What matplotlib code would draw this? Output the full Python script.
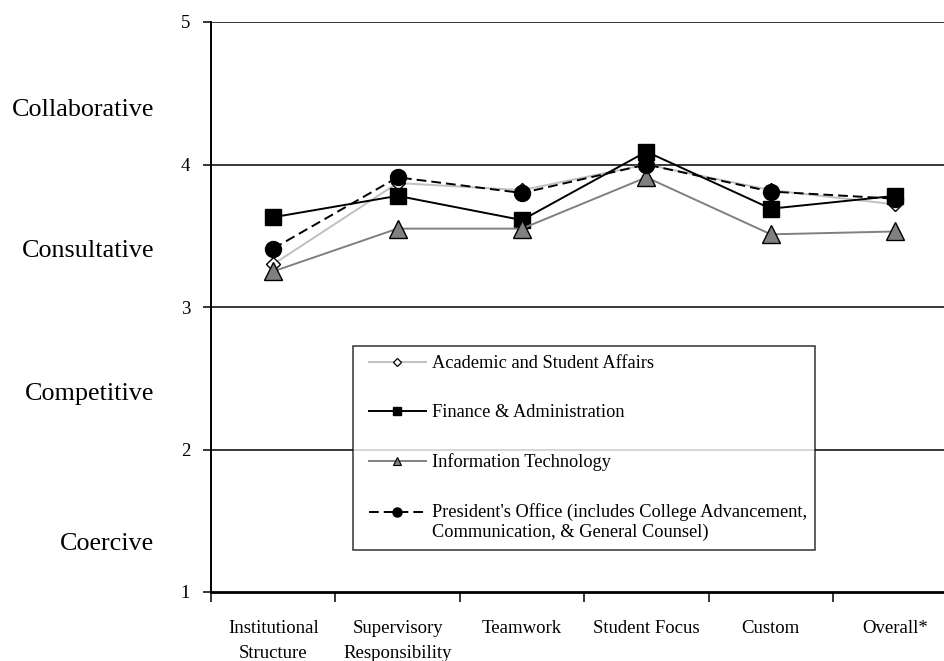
import matplotlib
matplotlib.use("Agg")
import matplotlib.pyplot as plt
from matplotlib.lines import Line2D
from matplotlib.legend_handler import HandlerLine2D
import numpy as np

plt.rcParams['font.family'] = ['Liberation Serif', 'DejaVu Serif']

categories = ["Institutional\nStructure", "Supervisory\nResponsibility", "Teamwork",
              "Student Focus", "Custom", "Overall*"]
academic = [3.30, 3.87, 3.82, 4.00, 3.82, 3.72]
finance = [3.63, 3.78, 3.61, 4.09, 3.69, 3.78]
info_tech = [3.25, 3.55, 3.55, 3.91, 3.51, 3.53]
president = [3.41, 3.91, 3.80, 4.00, 3.81, 3.76]

series_labels = ["Academic and Student Affairs", "Finance & Administration",
                 "Information Technology",
                 "President's Office (includes College Advancement,\nCommunication, & General Counsel)"]
style_names = ["Collaborative", "Consultative", "Competitive", "Coercive"]
style_levels = [4.38, 3.39, 2.39, 1.34]
y_ticks = [1, 2, 3, 4, 5]

W, H = 945, 661
fig = plt.figure(figsize=(W / 100, H / 100), dpi=100)
ax = fig.add_axes([211 / W, 1 - 592 / H, 734 / W, 570 / H])

x = np.arange(len(categories))
light = "#c0c0c0"
mid = "#808080"

ax.plot(x, academic, color=light, lw=1.4, marker="D", ms=7.5,
        mfc="white", mec="black", mew=1.0, zorder=3)
ax.plot(x, finance, color="black", lw=1.4, marker="s", ms=12,
        mfc="black", mec="black", zorder=4)
ax.plot(x, info_tech, color=mid, lw=1.4, marker="^", ms=12.5,
        mfc=mid, mec="black", mew=1.0, zorder=5)
ax.plot(x, president, color="black", lw=1.4, ls=(0, (5, 2.6)), marker="o", ms=11.5,
        mfc="black", mec="black", zorder=6)

ax.set_xlim(-0.5, 5.4)
ax.set_ylim(1, 5)

# horizontal gridlines at each level
for yv in y_ticks[1:]:
    ax.axhline(yv, color="black", lw=1.1, zorder=1)

for s in ["top", "right"]:
    ax.spines[s].set_visible(False)
ax.spines["left"].set_linewidth(1.4)
ax.spines["bottom"].set_linewidth(2.0)

ax.set_yticks(y_ticks)
ax.set_yticklabels([str(v) for v in y_ticks])
ax.tick_params(axis="y", direction="out", length=6, width=1.1, pad=9, labelsize=13.5)

ax.set_xticks(x)
ax.set_xticklabels(categories, linespacing=1.55)
ax.set_xticks(np.arange(-0.5, 5.5, 1.0), minor=True)
ax.tick_params(axis="x", which="major", length=0, pad=20.5, labelsize=13.5)
ax.tick_params(axis="x", which="minor", direction="out", length=7, width=1.1)

for name, lvl in zip(style_names, style_levels):
    ax.annotate(name, xy=(0, lvl), xycoords=("axes fraction", "data"),
                xytext=(-57 * 0.72, 0), textcoords="offset points",
                ha="right", va="center", fontsize=18.8)


class FirstLineHandler(HandlerLine2D):
    """Places the legend key beside the first line of a two-line label."""
    def create_artists(self, legend, orig_handle, xdescent, ydescent,
                       width, height, fontsize, trans):
        lift = 0.55 * fontsize
        return super().create_artists(legend, orig_handle, xdescent,
                                      ydescent - 2 * lift, width, height,
                                      fontsize, trans)


handles = [
    Line2D([], [], color=light, lw=1.4, marker="D", ms=4.5, mfc="white", mec="black", mew=0.9),
    Line2D([], [], color="black", lw=1.4, marker="s", ms=6, mfc="black", mec="black"),
    Line2D([], [], color=mid, lw=1.4, marker="^", ms=5.5, mfc=mid, mec="black", mew=0.8),
    Line2D([], [], color="black", lw=1.4, ls=(0, (5, 2.6)), marker="o", ms=6.5,
           mfc="black", mec="black"),
]

legend_size = 13.2
key_pad = 0.35 * 13.5 / legend_size
leg = fig.legend(handles, series_labels,
                 handler_map={Line2D: HandlerLine2D(xpad=key_pad),
                              handles[3]: FirstLineHandler(xpad=key_pad)},
                 loc="upper left",
                 bbox_to_anchor=(353 / W, 1 - 346 / H, 462 / W, 0.0),
                 mode="expand", borderaxespad=0, borderpad=0.5 * 13.5 / legend_size,
                 fontsize=legend_size, handlelength=3.39 * 13.5 / legend_size,
                 handletextpad=0.32 * 13.5 / legend_size,
                 labelspacing=1.7 * 13.5 / legend_size, fancybox=False, frameon=True)
leg.get_frame().set_edgecolor("black")
leg.get_frame().set_linewidth(1.1)

fig.savefig("out.png", dpi=100)
